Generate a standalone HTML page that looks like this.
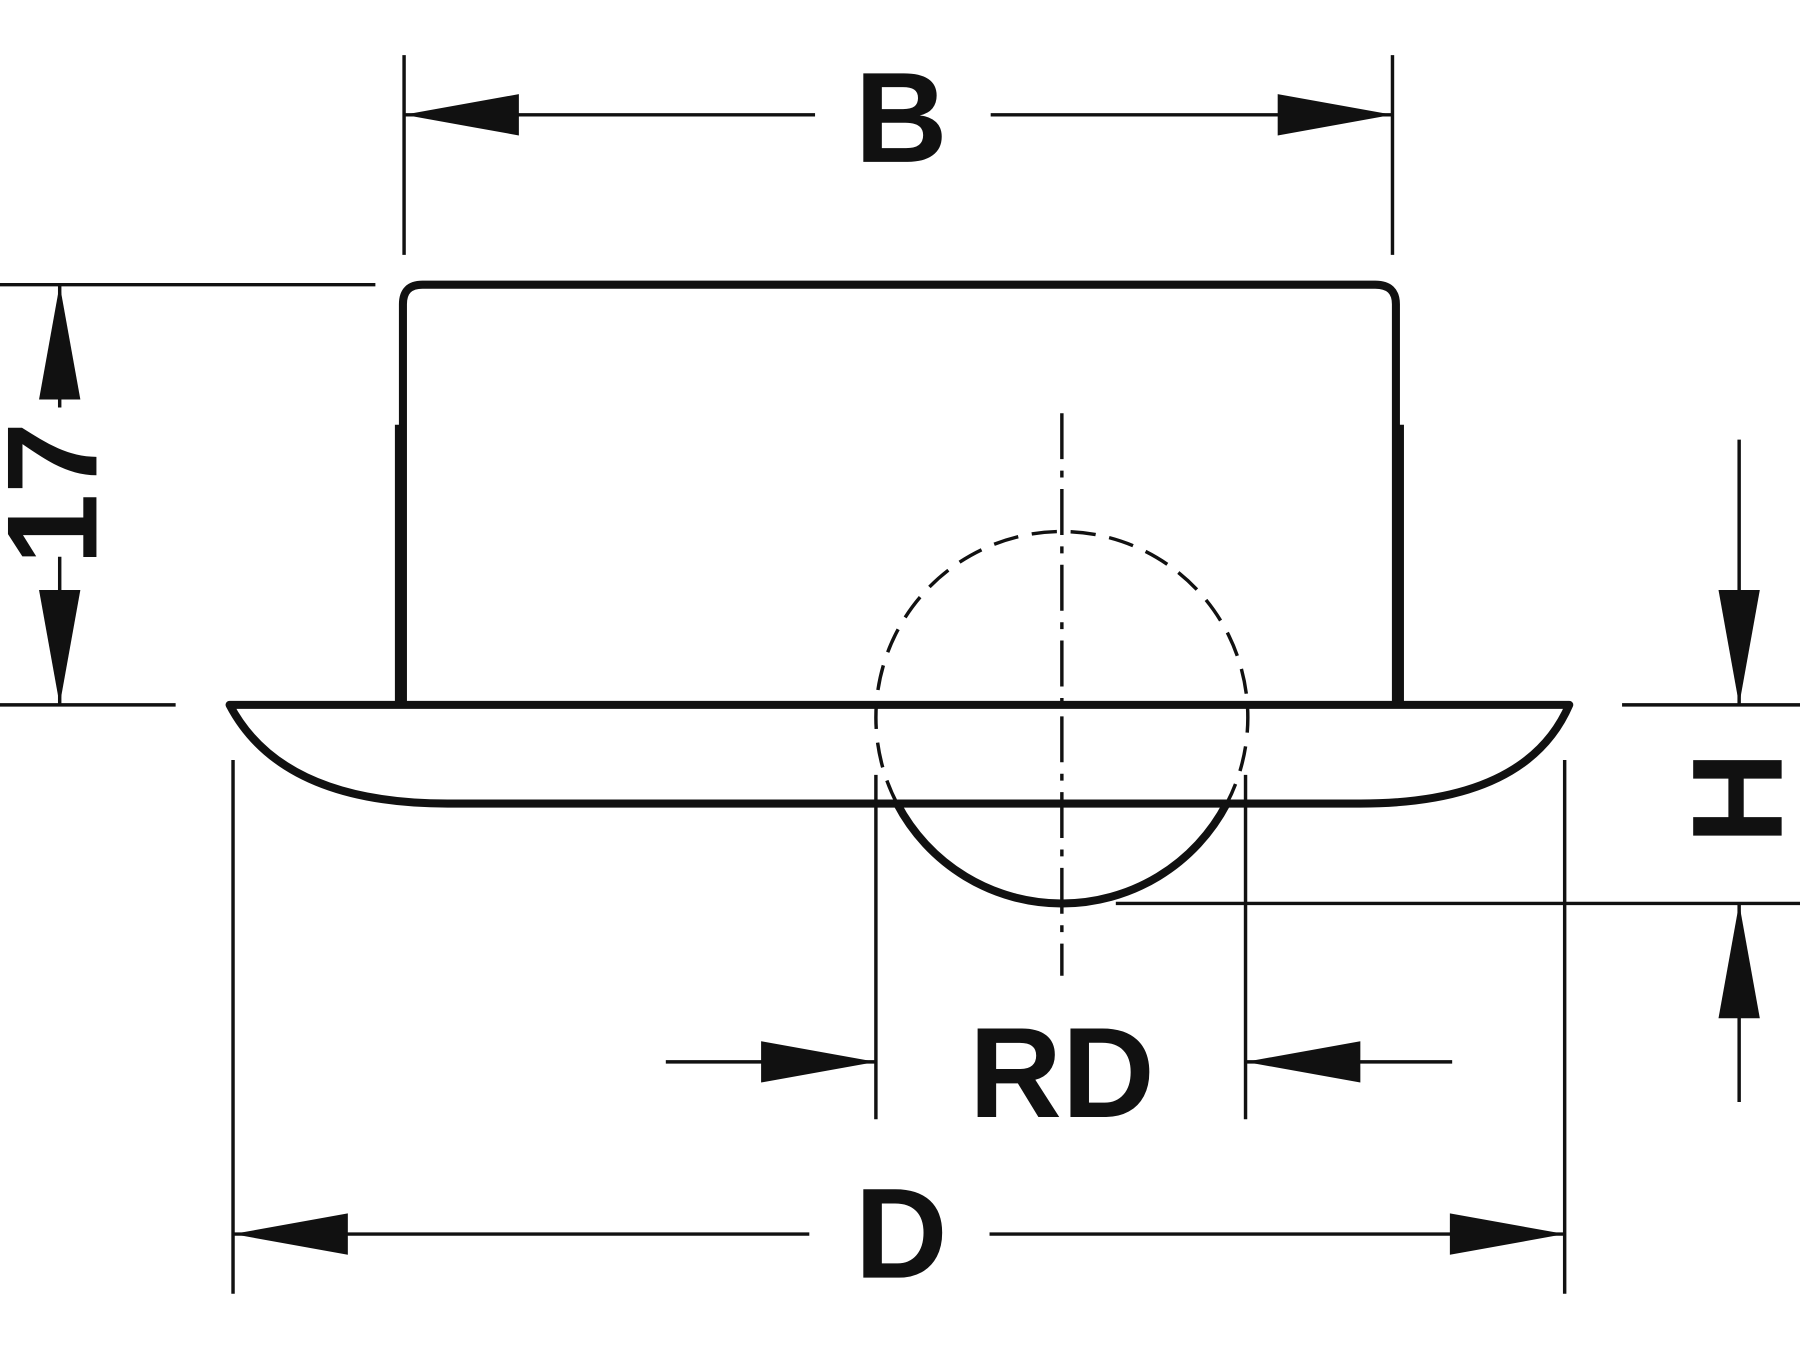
<!DOCTYPE html>
<html><head><meta charset="utf-8"><style>
html,body{margin:0;padding:0;background:#fff;}
svg{display:block;}
text{font-family:"Liberation Sans",Arial,sans-serif;font-weight:bold;fill:#111;}
</style></head><body>
<svg width="1800" height="1350" viewBox="0 0 1568 1176" preserveAspectRatio="none" xmlns="http://www.w3.org/2000/svg">
<g stroke="#111" fill="none" stroke-width="3">
<line x1="352" y1="48" x2="352" y2="222"/>
<line x1="1213" y1="48" x2="1213" y2="222"/>
<line x1="352" y1="100" x2="710" y2="100"/>
<line x1="863" y1="100" x2="1213" y2="100"/>
<line x1="0" y1="248" x2="327" y2="248"/>
<line x1="0" y1="614" x2="153" y2="614"/>
<line x1="52" y1="248" x2="52" y2="355"/>
<line x1="52" y1="485" x2="52" y2="614"/>
<line x1="1413" y1="614" x2="1568" y2="614"/>
<line x1="972" y1="787" x2="1568" y2="787"/>
<line x1="1515" y1="383" x2="1515" y2="614"/>
<line x1="1515" y1="787" x2="1515" y2="960"/>
<line x1="763" y1="675" x2="763" y2="975"/>
<line x1="1085" y1="675" x2="1085" y2="975"/>
<line x1="580" y1="925" x2="763" y2="925"/>
<line x1="1085" y1="925" x2="1265" y2="925"/>
<line x1="203" y1="662" x2="203" y2="1127"/>
<line x1="1363" y1="662" x2="1363" y2="1127"/>
<line x1="203" y1="1075" x2="705" y2="1075"/>
<line x1="862" y1="1075" x2="1363" y2="1075"/>
<line x1="925" y1="360" x2="925" y2="850" stroke-dasharray="40,10,6,10"/>
</g>
<g stroke="#111" fill="none" stroke-width="7" stroke-linejoin="round">
<path d="M351 612 V265 Q351 248 368 248 H1198 Q1216 248 1216 265 V612"/>
<path d="M200 614 H1367 Q1330 700 1185 700 H390 Q245 700 200 614 Z"/>
<path d="M781.4 700 A162 162 0 0 0 1068.6 700"/>
<path d="M781.4 700 A162 162 0 1 1 1068.6 700" stroke-width="3" stroke-dasharray="22,12"/>
</g>
<g fill="#111">
<rect x="344" y="370" width="6" height="242"/>
<rect x="1217" y="370" width="6" height="242"/>
<polygon points="352,100 452,82 452,118"/>
<polygon points="1213,100 1113,82 1113,118"/>
<polygon points="52,248 34,348 70,348"/>
<polygon points="52,614 34,514 70,514"/>
<polygon points="1515,614 1497,514 1533,514"/>
<polygon points="1515,787 1497,887 1533,887"/>
<polygon points="763,925 663,907 663,943"/>
<polygon points="1085,925 1185,907 1185,943"/>
<polygon points="203,1075 303,1057 303,1093"/>
<polygon points="1363,1075 1263,1057 1263,1093"/>
</g>
<text x="785" y="141" font-size="112" text-anchor="middle">B</text>
<text x="925" y="973" font-size="112" text-anchor="middle">RD</text>
<text x="785" y="1113" font-size="112" text-anchor="middle">D</text>
<text transform="translate(84,430) rotate(-90)" font-size="112" text-anchor="middle">17</text>
<text transform="translate(1552,695) rotate(-90)" font-size="112" text-anchor="middle">H</text>
</svg>
</body></html>
